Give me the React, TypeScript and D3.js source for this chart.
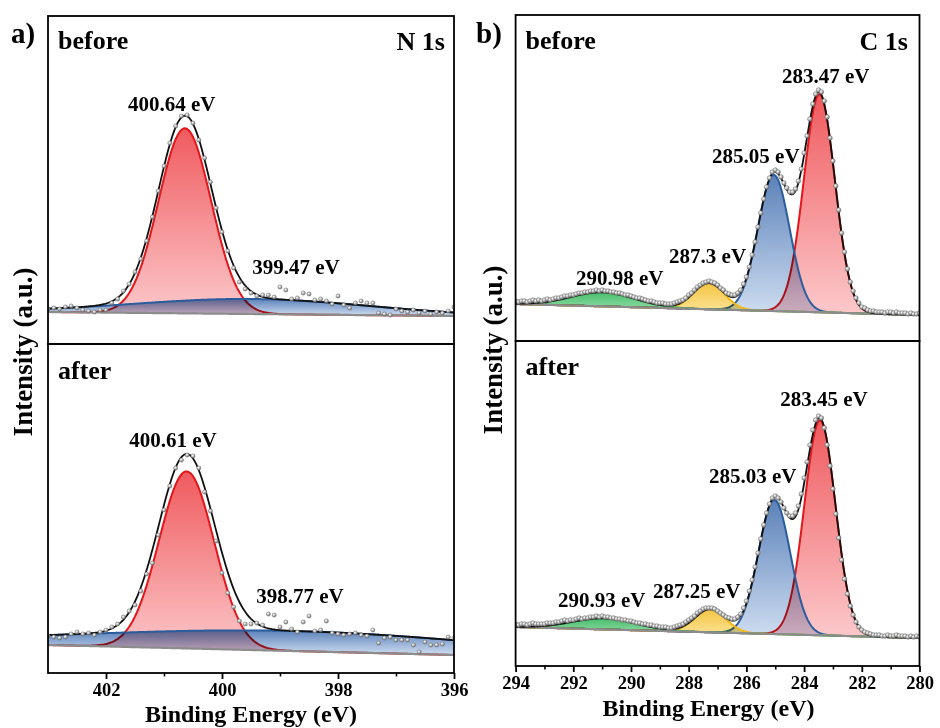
import React, { useEffect, useRef } from 'react';
import * as d3 from 'd3';

// measured points, one value every 0.1 eV, from high to low binding energy
const scanStep = 0.1;
const n1sStart = 403;
const n1sBefore = [
  35, 36, 35, 37, 38, 36, 34, 33, 32, 34,
  34, 41, 45, 53, 60, 72, 85, 103, 127, 153,
  178, 201, 218, 228, 229, 221, 204, 186, 162, 136,
  112, 93, 76, 62, 55, 51, 48, 49, 49, 47,
  57, 54, 45, 46, 51, 50, 44, 45, 43, 40,
  48, 39, 36, 41, 43, 41, 41, 31, 30, 29,
  35, 33, 32, 34, 31, 33, 30, 32, 31, 33, 37,
];
const n1sAfter = [
  37, 36, 35, 36, 39, 41, 39, 40, 38, 41,
  43, 46, 49, 56, 62, 68, 82, 99, 110, 138,
  163, 187, 205, 213, 218, 217, 205, 181, 162, 132,
  100, 80, 66, 52, 49, 49, 50, 48, 59, 58,
  46, 51, 44, 41, 51, 57, 42, 43, 52, 40,
  39, 38, 39, 40, 38, 37, 43, 30, 35, 36,
  33, 33, 33, 28, 21, 31, 28, 28, 29, 36, 35,
];
const c1sStart = 294;
const c1sBefore = [
  40, 39, 40, 40, 39, 40, 41, 40, 41, 40,
  41, 42, 41, 42, 43, 43, 44, 45, 45, 46,
  46, 47, 48, 48, 49, 49, 50, 50, 51, 50,
  51, 50, 50, 49, 49, 48, 48, 47, 46, 46,
  45, 44, 43, 43, 42, 41, 40, 40, 39, 38,
  38, 38, 37, 37, 37, 38, 39, 40, 41, 43,
  46, 48, 51, 54, 56, 58, 59, 60, 59, 58,
  56, 53, 51, 48, 47, 46, 46, 48, 51, 57,
  64, 74, 86, 99, 114, 128, 142, 154, 163, 169,
  171, 169, 164, 158, 153, 149, 149, 152, 160, 172,
  188, 205, 222, 237, 247, 251, 249, 240, 224, 203,
  180, 155, 131, 108, 89, 72, 59, 50, 43, 38,
  34, 33, 31, 30, 30, 29, 29, 29, 28, 29,
  29, 28, 29, 28, 28, 28, 27, 28, 27, 27, 28,
];
const c1sAfter = [
  42, 41, 42, 42, 41, 42, 43, 42, 42, 42,
  42, 43, 43, 43, 44, 44, 45, 46, 45, 46,
  46, 47, 48, 47, 48, 48, 49, 49, 50, 49,
  50, 49, 49, 48, 48, 47, 47, 46, 46, 45,
  45, 44, 43, 43, 42, 42, 41, 41, 40, 40,
  39, 39, 39, 38, 38, 39, 40, 41, 42, 44,
  46, 48, 50, 53, 55, 57, 58, 58, 58, 57,
  55, 53, 51, 49, 48, 47, 47, 49, 52, 58,
  65, 75, 86, 99, 113, 127, 141, 153, 162, 168,
  170, 168, 164, 158, 153, 150, 150, 153, 160, 172,
  188, 204, 221, 236, 246, 250, 248, 238, 221, 200,
  177, 152, 128, 106, 87, 72, 60, 51, 44, 39,
  36, 34, 33, 32, 31, 31, 31, 30, 30, 31,
  30, 30, 31, 30, 30, 30, 29, 30, 29, 30, 29,
];

// linear background: intensity at the high / low energy end
const n1sBeforeBg = [32, 28];
const n1sAfterBg = [28, 18];
const c1sBeforeBg = [37, 26];
const c1sAfterBg = [39, 28];

// fitted components: [centre eV, height, FWHM eV]
const n1sBeforePeaks = [[400.64, 185, 1.07], [399.47, 15, 4.8]];
const n1sAfterPeaks = [[400.61, 177, 1.12], [398.77, 20, 8.4]];
const c1sBeforePeaks = [[283.47, 218, 1.27], [285.05, 136, 1.3], [287.3, 26, 1.25], [290.98, 14, 2.6]];
const c1sAfterPeaks = [[283.45, 215, 1.27], [285.03, 134, 1.3], [287.25, 23, 1.25], [290.93, 11, 2.6]];

const n1sTicks = [402, 400, 398, 396];
const n1sMinor = [401, 399, 397];
const c1sTicks = [294, 292, 290, 288, 286, 284, 282, 280];
const c1sMinor = [293, 291, 289, 287, 285, 283, 281];

// ---- layout / style ----
const FONT = "'Liberation Serif', 'Times New Roman', serif";
const colors = {
  red: { line: '#e3161b', top: '#ef5a5e', bottom: '#fcc9cb' },
  blue: { line: '#2b5c9c', top: '#5c82ba', bottom: '#cfdef1' },
  yellow: { line: '#f4b915', top: '#f5c542', bottom: '#fce6a0' },
  green: { line: '#2fae55', top: '#46bf6c', bottom: '#a9e3b7' },
};

const left = { energy: [403, 396], xr: [48, 454], ticks: n1sTicks, minor: n1sMinor, comps: ['red', 'blue'], r: 2.1 };
const right = { energy: [294, 280], xr: [515.6, 919.5], ticks: c1sTicks, minor: c1sMinor, comps: ['red', 'blue', 'yellow', 'green'], r: 2.3 };

const subplots = [
  { ...left, top: 16, bottom: 344, start: n1sStart, data: n1sBefore, bg: n1sBeforeBg, peaks: n1sBeforePeaks,
    labelAt: [[401.62, 233], [399.48, 70]], tag: 'before', tagY: 49 },
  { ...left, top: 344, bottom: 673, start: n1sStart, data: n1sAfter, bg: n1sAfterBg, peaks: n1sAfterPeaks,
    labelAt: [[401.6, 226], [399.41, 70]], tag: 'after', tagY: 379, axis: true, titleY: 722 },
  { ...right, top: 15, bottom: 341, start: c1sStart, data: c1sBefore, bg: c1sBeforeBg, peaks: c1sBeforePeaks,
    labelAt: [[284.77, 258], [287.19, 178], [288.68, 78], [291.91, 56]], tag: 'before', tagY: 49 },
  { ...right, top: 341, bottom: 666, start: c1sStart, data: c1sAfter, bg: c1sAfterBg, peaks: c1sAfterPeaks,
    labelAt: [[284.83, 260], [287.3, 183], [289.24, 68], [292.53, 59]], tag: 'after', tagY: 375, axis: true, titleY: 716 },
];

const boldText = (sel, size) =>
  sel.attr('font-family', FONT).attr('font-weight', 'bold').attr('font-size', size).attr('fill', '#000');

const App = () => {
  const ref = useRef(null);

  useEffect(() => {
    const svg = d3.select(ref.current);
    svg.selectAll('*').remove();
    const defs = svg.append('defs');

    Object.entries(colors).forEach(([k, c]) => {
      const lg = defs.append('linearGradient').attr('id', `fill-${k}`)
        .attr('x1', 0).attr('y1', 0).attr('x2', 0).attr('y2', 1);
      lg.append('stop').attr('offset', '0%').attr('stop-color', c.top);
      lg.append('stop').attr('offset', '100%').attr('stop-color', c.bottom);
    });
    const ball = defs.append('radialGradient').attr('id', 'ball')
      .attr('cx', '38%').attr('cy', '35%').attr('r', '65%');
    ball.append('stop').attr('offset', '0%').attr('stop-color', '#ffffff');
    ball.append('stop').attr('offset', '45%').attr('stop-color', '#c4c4c4');
    ball.append('stop').attr('offset', '100%').attr('stop-color', '#6a6a6a');

    subplots.forEach((s, i) => {
      const x = d3.scaleLinear().domain(s.energy).range(s.xr);
      const y = d3.scaleLinear().domain([0, s.bottom - s.top]).range([s.bottom, s.top]);
      const [hi, lo] = s.energy;

      defs.append('clipPath').attr('id', `clip-${i}`).append('rect')
        .attr('x', s.xr[0]).attr('y', s.top)
        .attr('width', s.xr[1] - s.xr[0]).attr('height', s.bottom - s.top);
      const g = svg.append('g').attr('clip-path', `url(#clip-${i})`);

      const grid = d3.range(0, Math.round((hi - lo) / 0.02) + 1).map((k) => hi - k * 0.02);
      const bg = (e) => s.bg[0] + (s.bg[1] - s.bg[0]) * (hi - e) / (hi - lo);
      const comp = (p, e) => p[1] * Math.exp(-4 * Math.LN2 * ((e - p[0]) / p[2]) ** 2);

      s.peaks.forEach((p, j) => {
        const c = s.comps[j];
        const area = d3.area().x((e) => x(e)).y0((e) => y(bg(e))).y1((e) => y(bg(e) + comp(p, e)));
        g.append('path').attr('d', area(grid)).attr('fill', `url(#fill-${c})`)
          .style('mix-blend-mode', 'multiply');
        const line = d3.line().x((e) => x(e)).y((e) => y(bg(e) + comp(p, e)));
        g.append('path').attr('d', line(grid)).attr('fill', 'none')
          .attr('stroke', colors[c].line).attr('stroke-width', 2);
      });

      g.append('path')
        .attr('d', d3.line().x((e) => x(e)).y((e) => y(bg(e)))(grid))
        .attr('fill', 'none').attr('stroke', '#8c8c8c').attr('stroke-width', 2.2);

      const total = (e) => bg(e) + d3.sum(s.peaks, (p) => comp(p, e));
      g.append('path')
        .attr('d', d3.line().x((e) => x(e)).y((e) => y(total(e)))(grid))
        .attr('fill', 'none').attr('stroke', '#111').attr('stroke-width', 1.8);

      g.selectAll('circle.pt').data(s.data).join('circle').attr('class', 'pt')
        .attr('cx', (v, k) => x(s.start - k * scanStep)).attr('cy', (v) => y(v))
        .attr('r', s.r).attr('fill', 'url(#ball)')
        .attr('stroke', '#6f6f6f').attr('stroke-width', 0.5);

      // peak labels
      s.peaks.forEach((p, j) => {
        const [le, li] = s.labelAt[j];
        boldText(svg.append('text'), 21).attr('x', x(le)).attr('y', y(li)).text(`${p[0]} eV`);
      });

      boldText(svg.append('text'), 26).attr('x', s.xr[0] + 10).attr('y', s.tagY).text(s.tag);

      svg.append('rect').attr('x', s.xr[0]).attr('y', s.top)
        .attr('width', s.xr[1] - s.xr[0]).attr('height', s.bottom - s.top)
        .attr('fill', 'none').attr('stroke', '#000').attr('stroke-width', 1.8);

      if (s.axis) {
        const ag = svg.append('g').attr('transform', `translate(0,${s.bottom})`)
          .call(d3.axisBottom(x).tickValues(s.ticks).tickSize(6).tickPadding(4).tickFormat(d3.format('d')));
        ag.select('.domain').remove();
        ag.selectAll('line').attr('stroke', '#000').attr('stroke-width', 1.8);
        boldText(ag.selectAll('text'), 18.5);
        const mg = svg.append('g').attr('transform', `translate(0,${s.bottom})`)
          .call(d3.axisBottom(x).tickValues(s.minor).tickSize(3.5).tickFormat(() => ''));
        mg.select('.domain').remove();
        mg.selectAll('line').attr('stroke', '#000').attr('stroke-width', 1.6);

        boldText(svg.append('text'), 24).attr('x', (s.xr[0] + s.xr[1]) / 2 - (i === 3 ? 9 : 0))
          .attr('y', s.titleY).attr('text-anchor', 'middle').text('Binding Energy (eV)');
      }
    });

    // panel letters, element tags and axis titles
    boldText(svg.append('text'), 29).attr('x', 11).attr('y', 43).text('a)');
    boldText(svg.append('text'), 29).attr('x', 476).attr('y', 43).text('b)');
    boldText(svg.append('text'), 26).attr('x', 445).attr('y', 50).attr('text-anchor', 'end').text('N 1s');
    boldText(svg.append('text'), 26).attr('x', 908).attr('y', 50).attr('text-anchor', 'end').text('C 1s');
    boldText(svg.append('text'), 27).attr('text-anchor', 'middle')
      .attr('transform', 'translate(32,352) rotate(-90)').text('Intensity (a.u.)');
    boldText(svg.append('text'), 27).attr('text-anchor', 'middle')
      .attr('transform', 'translate(502,350) rotate(-90)').text('Intensity (a.u.)');
  }, []);

  return (
    <svg ref={ref} width={940} height={728}
      style={{ position: 'absolute', left: 0, top: 0, background: '#fff' }} />
  );
};

export default App;
